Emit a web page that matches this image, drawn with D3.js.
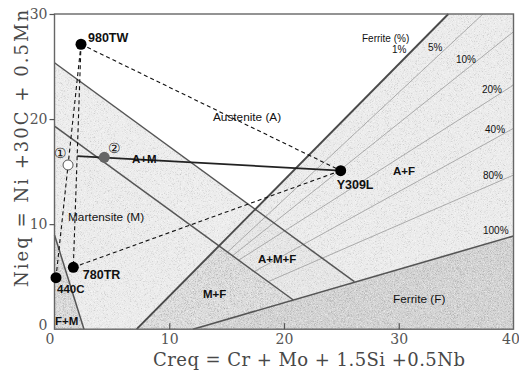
<!DOCTYPE html>
<html><head><meta charset="utf-8">
<script src="https://cdn.jsdelivr.net/npm/d3@7"></script>
<style>
html,body{margin:0;padding:0;background:#fff;}
svg{display:block;}
.lab{font-family:"Liberation Sans",Arial,sans-serif;fill:#111;}
.axis text{font-family:"DejaVu Serif",serif;font-size:14px;fill:#555;}
.axis path{display:none;}
.axis line{stroke:#555;stroke-width:1.2;}
</style></head>
<body>
<script>
// ---- data ----
const xTicks = [0, 10, 20, 30, 40];
const yTicks = [0, 10, 20, 30];

// phase boundaries (Creq, Nieq)
const lineA = [[0, 25.36], [26.13, 4.52]];       // A / A+M
const lineB = [[0, 19.33], [20.81, 2.78]];       // A+M / M
const lineAF = [[7.16, 0], [34.32, 30]];         // A / A+F (1% ferrite)
const lineFerrite = [[12.07, 0], [40, 8.87]];    // 100% ferrite
const lineFM = [[0, 8.97], [2.57, 0]];           // M / F+M

// ferrite percentage lines
const ferritePct = ["5%", "10%", "20%", "40%", "80%"];
const ferriteStart = [[15.08, 7.34], [15.50, 6.98], [16.04, 6.56], [17.40, 5.48], [18.61, 4.52]];
const ferriteEnd = [[37.34, 30], [40, 28.31], [40, 23.24], [40, 19.12], [40, 14.67]];

// alloys
const alloys = ["980TW", "Y309L", "780TR", "440C"];
const creq = [2.31, 24.94, 1.64, 0.13];
const nieq = [27.12, 15.09, 5.89, 4.90];
const dashedPairs = [["980TW", "Y309L"], ["780TR", "Y309L"], ["980TW", "780TR"], ["980TW", "440C"]];

// mixing points
const point1 = [1.18, 15.63];
const point2 = [4.34, 16.36];
const tieStart = [1.99, 16.48];

// region labels [text, creq, nieq, bold]
const regionLabels = [
  ["Austenite (A)", 13.81, 19.82, false],
  ["A+M", 6.75, 15.82, true],
  ["Martensite (M)", 1.18, 10.30, false],
  ["F+M", 0.05, 0.40, true],
  ["M+F", 12.94, 2.97, true],
  ["A+M+F", 17.73, 6.30, true],
  ["Ferrite (F)", 29.5, 2.49, false],
  ["A+F", 29.5, 14.67, true]
];
const pctLabels = [
  ["Ferrite (%)", 26.80, 27.33],
  ["1%", 29.41, 26.28],
  ["5%", 32.55, 26.47],
  ["10%", 34.99, 25.33],
  ["20%", 37.25, 22.48],
  ["40%", 37.52, 18.67],
  ["80%", 37.34, 14.30],
  ["100%", 37.34, 9.06]
];

// ---- drawing ----
const W = 519, H = 378;
const svg = d3.select("body").append("svg").attr("width", W).attr("height", H);
const x = d3.scaleLinear().domain([0, 40]).range([54.5, 513.5]);
const y = d3.scaleLinear().domain([0, 30]).range([329.2, 14]);

function intersect(l1, l2) {
  const [[x1, y1], [x2, y2]] = l1, [[x3, y3], [x4, y4]] = l2;
  const m1 = (y2 - y1) / (x2 - x1), m2 = (y4 - y3) / (x4 - x3);
  const xi = (y3 - y1 + m1 * x1 - m2 * x3) / (m1 - m2);
  return [xi, y1 + m1 * (xi - x1)];
}
const PA = intersect(lineA, lineAF), PB = intersect(lineB, lineAF);
const PAF = intersect(lineA, lineFerrite), PBF = intersect(lineB, lineFerrite);

const regions = [
  {pts: [lineA[0], PA, PB, lineB[0]], fill: "#ececec", dark: false},                          // A+M
  {pts: [lineB[0], PB, lineAF[0], lineFM[1], lineFM[0]], fill: "#ebebeb", dark: false},       // M
  {pts: [lineFM[0], lineFM[1], [0, 0]], fill: "#dcdcdc", dark: true},                         // F+M
  {pts: [PA, lineAF[1], [40, 30], lineFerrite[1], PAF], fill: "#ebebeb", dark: false},        // A+F
  {pts: [PA, PAF, PBF, PB], fill: "#e5e5e5", dark: false},                                    // A+M+F
  {pts: [PB, PBF, lineFerrite[0], lineAF[0]], fill: "#dedede", dark: true},                   // M+F
  {pts: [lineFerrite[0], lineFerrite[1], [40, 0]], fill: "#d5d5d5", dark: true}               // F
];
const poly = pts => pts.map(p => [x(p[0]), y(p[1])].join(",")).join(" ");

const defs = svg.append("defs");
function grain(id, matrix, seed) {
  const f = defs.append("filter").attr("id", id)
    .attr("filterUnits", "userSpaceOnUse").attr("x", 0).attr("y", 0).attr("width", W).attr("height", H);
  f.append("feTurbulence").attr("type", "fractalNoise").attr("baseFrequency", 1.3)
    .attr("numOctaves", 2).attr("seed", seed);
  f.append("feColorMatrix").attr("type", "matrix").attr("values", matrix);
}
grain("grainDark", "0 0 0 0 0.3  0 0 0 0 0.3  0 0 0 0 0.3  1.3 0 0 0 -0.74", 5);
grain("grainLight", "0 0 0 0 1  0 0 0 0 1  0 0 0 0 1  -1.8 0 0 0 0.86", 5);
grain("grainHeavy", "0 0 0 0 0.35  0 0 0 0 0.35  0 0 0 0 0.35  2.0 0 0 0 -1.02", 11);
const clip = defs.append("clipPath").attr("id", "shaded");
regions.forEach(r => clip.append("polygon").attr("points", poly(r.pts)));
const clipD = defs.append("clipPath").attr("id", "shadedDark");
regions.filter(r => r.dark).forEach(r => clipD.append("polygon").attr("points", poly(r.pts)));

svg.append("g").selectAll("polygon").data(regions).join("polygon")
  .attr("points", d => poly(d.pts)).attr("fill", d => d.fill).attr("stroke", "none");
[["grainDark", "shaded"], ["grainLight", "shaded"], ["grainHeavy", "shadedDark"]].forEach(([id, c]) =>
  svg.append("rect").attr("x", x(0)).attr("y", y(30)).attr("width", x(40) - x(0)).attr("height", y(0) - y(30))
    .attr("clip-path", `url(#${c})`).attr("filter", `url(#${id})`).attr("fill", "#000"));

// ferrite % lines
svg.append("g").selectAll("line").data(ferritePct).join("line")
  .attr("x1", (d, i) => x(ferriteStart[i][0])).attr("y1", (d, i) => y(ferriteStart[i][1]))
  .attr("x2", (d, i) => x(ferriteEnd[i][0])).attr("y2", (d, i) => y(ferriteEnd[i][1]))
  .attr("stroke", "#aaa").attr("stroke-width", 1);

// boundaries
const bounds = [[lineA, 1.5, "#555"], [lineB, 1.5, "#555"], [lineFM, 1.5, "#555"],
                [lineFerrite, 1.6, "#555"], [lineAF, 1.9, "#4a4a4a"]];
svg.append("g").selectAll("line").data(bounds).join("line")
  .attr("x1", d => x(d[0][0][0])).attr("y1", d => y(d[0][0][1]))
  .attr("x2", d => x(d[0][1][0])).attr("y2", d => y(d[0][1][1]))
  .attr("stroke", d => d[2]).attr("stroke-width", d => d[1]);

// frame
svg.append("rect").attr("x", x(0)).attr("y", y(30)).attr("width", x(40) - x(0)).attr("height", y(0) - y(30))
  .attr("fill", "none").attr("stroke", "#666").attr("stroke-width", 1.4);

// axes
const xa = svg.append("g").attr("class", "axis").attr("transform", `translate(0,${y(0)})`)
  .call(d3.axisBottom(x).tickValues(xTicks).tickSizeInner(-6).tickSizeOuter(0).tickPadding(5));
xa.selectAll(".tick").filter(d => d === 0 || d === 40).select("line").remove();
xa.selectAll(".tick text").attr("dx", d => d === 0 ? -5 : (d === 40 ? -3 : 0));
const ya = svg.append("g").attr("class", "axis").attr("transform", `translate(${x(0)},0)`)
  .call(d3.axisLeft(y).tickValues(yTicks).tickSize(5).tickPadding(2));
ya.selectAll(".tick").filter(d => d === 0).select("line").remove();
ya.selectAll(".tick").filter(d => d === 0).select("text").attr("dy", "0.05em");

svg.append("text").attr("x", 153).attr("y", 366).attr("textLength", 312)
  .attr("font-family", "DejaVu Serif, serif").attr("font-size", 18).attr("fill", "#484848")
  .text("Creq = Cr + Mo + 1.5Si +0.5Nb");
svg.append("text").attr("transform", "translate(28,148.5) rotate(-90)").attr("text-anchor", "middle")
  .attr("textLength", 277)
  .attr("font-family", "DejaVu Serif, serif").attr("font-size", 18).attr("fill", "#484848")
  .text("Nieq = Ni +30C + 0.5Mn");

// dashed tie lines
const idx = n => alloys.indexOf(n);
svg.append("g").selectAll("line").data(dashedPairs).join("line")
  .attr("x1", d => x(creq[idx(d[0])])).attr("y1", d => y(nieq[idx(d[0])]))
  .attr("x2", d => x(creq[idx(d[1])])).attr("y2", d => y(nieq[idx(d[1])]))
  .attr("stroke", "#111").attr("stroke-width", 1.1).attr("stroke-dasharray", "4,3");

// solid line
svg.append("line").attr("x1", x(tieStart[0])).attr("y1", y(tieStart[1]))
  .attr("x2", x(creq[1])).attr("y2", y(nieq[1])).attr("stroke", "#222").attr("stroke-width", 1.8);

// points
svg.append("g").selectAll("circle").data(alloys).join("circle")
  .attr("cx", (d, i) => x(creq[i])).attr("cy", (d, i) => y(nieq[i])).attr("r", 5.5).attr("fill", "#000");
svg.append("circle").attr("cx", x(point2[0])).attr("cy", y(point2[1])).attr("r", 5.5).attr("fill", "#666");
svg.append("circle").attr("cx", x(point1[0])).attr("cy", y(point1[1])).attr("r", 5).attr("fill", "#fff")
  .attr("stroke", "#555").attr("stroke-width", 1);

// alloy labels
const alloyOff = {"980TW": [7, -2], "Y309L": [-4, 18.5], "780TR": [9.5, 11.7], "440C": [1, 15.3]};
svg.append("g").selectAll("text").data(alloys).join("text").attr("class", "lab")
  .attr("x", (d, i) => x(creq[i]) + alloyOff[d][0]).attr("y", (d, i) => y(nieq[i]) + alloyOff[d][1])
  .attr("font-size", d => d === "440C" ? 11.5 : 12.5).attr("font-weight", "bold").text(d => d);

svg.append("text").attr("class", "lab").attr("x", x(point1[0]) - 8).attr("y", y(point1[1]) - 6.5)
  .attr("text-anchor", "middle").attr("font-family", "Noto Sans CJK SC").attr("font-size", 14).text("①");
svg.append("text").attr("class", "lab").attr("x", x(point2[0]) + 10).attr("y", y(point2[1]) - 4.5)
  .attr("text-anchor", "middle").attr("font-family", "Noto Sans CJK SC").attr("font-size", 14).text("②");

// region labels
svg.append("g").selectAll("text").data(regionLabels).join("text").attr("class", "lab")
  .attr("x", d => x(d[1])).attr("y", d => y(d[2]))
  .attr("font-size", d => d[3] ? 11.5 : 11.8).attr("font-weight", d => d[3] ? "bold" : "normal")
  .text(d => d[0]);
svg.append("g").selectAll("text").data(pctLabels).join("text").attr("class", "lab")
  .attr("x", d => x(d[1])).attr("y", d => y(d[2])).attr("font-size", 10).attr("fill", "#222")
  .text(d => d[0]);
</script>
</body></html>
